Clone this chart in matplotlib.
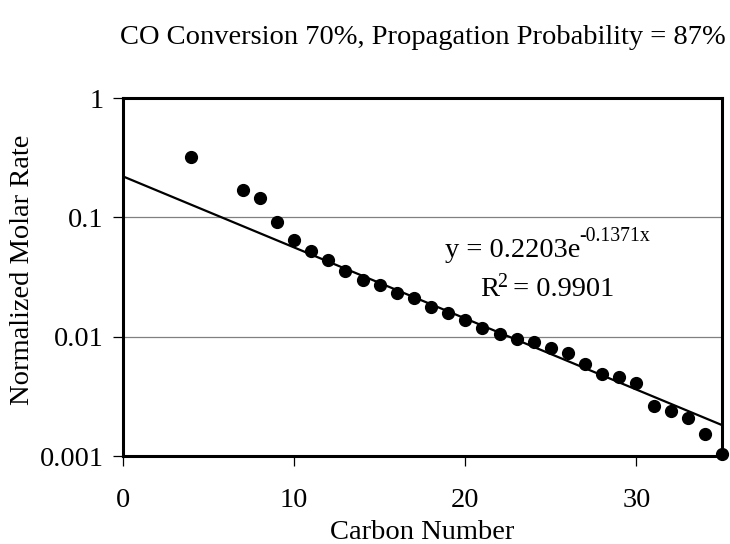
import numpy as np
import matplotlib
matplotlib.use("Agg")
import matplotlib.pyplot as plt

plt.rcParams['font.family'] = ['Liberation Serif', 'DejaVu Serif']

carbon_number = [4, 7, 8, 9, 10, 11, 12, 13, 14, 15, 16, 17, 18, 19, 20, 21, 22,
                 23, 24, 25, 26, 27, 28, 29, 30, 31, 32, 33, 34, 35]
molar_rate = [0.322, 0.170, 0.145, 0.0906, 0.0644, 0.0518, 0.0438, 0.0352, 0.0301,
              0.0272, 0.0232, 0.0209, 0.0176, 0.0159, 0.0138, 0.0119, 0.01055,
              0.00952, 0.0090, 0.00811, 0.00727, 0.00595, 0.00485, 0.00460,
              0.00407, 0.00261, 0.00240, 0.00207, 0.00154, 0.00104]
fit_a = 0.2203
fit_b = -0.1371
y_ticks = [0.001, 0.01, 0.1, 1]
y_tick_labels = ['0.001', '0.01', '0.1', '1']
x_ticks = [0, 10, 20, 30]

FS = 20.5
W, H = 730, 544

fig = plt.figure(figsize=(7.3, 5.44), dpi=100)
ax = fig.add_axes([123/W, 1 - 456/H, (722-123)/W, (456-98)/H])

ax.set_yscale('log')
ax.set_xlim(0, 35)
ax.set_ylim(0.001, 1)

for v in [0.01, 0.1]:
    ax.axhline(v, color='#808080', lw=0.9, zorder=1)

xf = np.linspace(0, 35, 200)
ax.plot(xf, fit_a * np.exp(fit_b * xf), color='black', lw=1.6, zorder=2)
ax.plot(carbon_number, molar_rate, 'o', color='black', ms=8.5, clip_on=False, zorder=3)

ax.set_yticks(y_ticks)
ax.set_yticklabels(y_tick_labels)
ax.yaxis.set_minor_locator(matplotlib.ticker.NullLocator())
ax.set_xticks(x_ticks)
ax.tick_params(axis='both', which='major', labelsize=FS, length=7, width=0.9,
               direction='out', color='black')
ax.tick_params(axis='y', pad=7)
ax.tick_params(axis='x', pad=16)
for s in ax.spines.values():
    s.set_linewidth(2.2)

ax.set_xlabel('Carbon Number', fontsize=FS, labelpad=5)
ax.set_ylabel('Normalized Molar Rate', fontsize=FS)
ax.yaxis.set_label_coords((23 - 123) / (722 - 123), (456 - 270) / (456 - 98))
ax.yaxis.label.set_va('center')
fig.text(423/W, 1 - 37/H, 'CO Conversion 70%, Propagation Probability = 87%',
         fontsize=FS, ha='center', va='center')

# trendline equation; superscripts drawn as separate texts to keep the hyphen
SUP = FS * 0.70


def run_text(x, y_base, parts):
    """Draw consecutive text runs: (text, size, raise_px)."""
    for txt, size, rise in parts:
        t = fig.text(x / W, (H - y_base + rise) / H, txt, fontsize=size,
                     ha='left', va='baseline')
        fig.canvas.draw()
        x = t.get_window_extent().x1 - 1.5


run_text(445, 257, [('y = 0.2203e', FS, 0), ('-0.1371x', SUP, 16)])
run_text(480, 296, [('R', FS, 0), ('2', SUP, 9), (' = 0.9901', FS, 0)])

fig.savefig('out.png', dpi=100)
